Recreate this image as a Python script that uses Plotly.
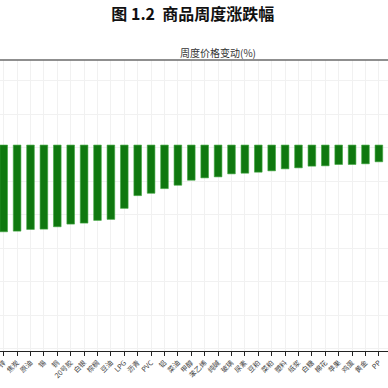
import plotly.graph_objects as go

categories = ["锌", "焦炭", "原油", "锡", "铜", "20号胶", "白银", "棕榈", "豆油", "LPG",
              "沥青", "PVC", "铝", "菜油", "甲醇", "苯乙烯", "纯碱", "玻璃", "尿素", "豆粕",
              "菜粕", "塑料", "纸浆", "白糖", "棉花", "苹果", "鸡蛋", "黄金", "PP"]
changes = [-2.59, -2.57, -2.52, -2.51, -2.44, -2.36, -2.33, -2.25, -2.22, -1.89,
           -1.51, -1.44, -1.30, -1.20, -1.05, -0.98, -0.95, -0.86, -0.84, -0.81,
           -0.77, -0.71, -0.68, -0.63, -0.62, -0.58, -0.58, -0.56, -0.50]

title_text = "图 1.2  商品周度涨跌幅"
subtitle_text = "周度价格变动(%)"

fig = go.Figure(go.Bar(
    x=list(range(len(categories))),
    y=changes,
    width=0.57,
    marker=dict(color="#0f780f", line=dict(color="#3fa83f", width=0.6)),
))

fig.update_layout(
    width=388, height=388,
    margin=dict(l=0, r=0, t=60, b=37),
    paper_bgcolor="white", plot_bgcolor="white",
    showlegend=False,
    title=dict(text="<b>" + title_text + "</b>", x=0.497, xanchor="center",
               y=1 - 14 / 388, yanchor="middle",
               font=dict(family="Noto Sans CJK SC", size=16, color="#111111")),
    annotations=[dict(text=subtitle_text, xref="paper", yref="paper",
                      x=217.5 / 388, y=1 + 7.5 / 291, xanchor="center", yanchor="middle",
                      showarrow=False,
                      font=dict(family="Noto Sans CJK SC", size=10, color="#333333"))],
    shapes=[dict(type="line", xref="paper", yref="paper", x0=0, x1=1, y0=1, y1=1,
                 line=dict(color="#6a6a6a", width=1.3))],
    bargap=0.4,
)

fig.update_xaxes(
    range=[-0.276, 28.68],
    automargin=False,
    tickmode="array",
    tickvals=list(range(len(categories))),
    ticktext=categories,
    tickangle=-45,
    ticklabeloverflow="allow",
    tickfont=dict(family="Noto Sans CJK SC", size=7, color="#444444"),
    showline=True, linecolor="#222222", linewidth=1,
    ticks="outside", ticklen=4, tickcolor="#222222",
    showgrid=True, gridcolor="#f1f1f1", gridwidth=1,
    zeroline=False,
)
fig.update_yaxes(
    range=[-6.15, 2.54],
    automargin=False,
    tick0=-0.075, dtick=1,
    showticklabels=False,
    showgrid=True, gridcolor="#f1f1f1", gridwidth=1,
    zeroline=False, showline=False,
)

fig.write_html(
    "out.html",
    config={"displayModeBar": False},
    post_script="document.body.style.margin='0px';document.body.style.overflow='hidden';",
)
